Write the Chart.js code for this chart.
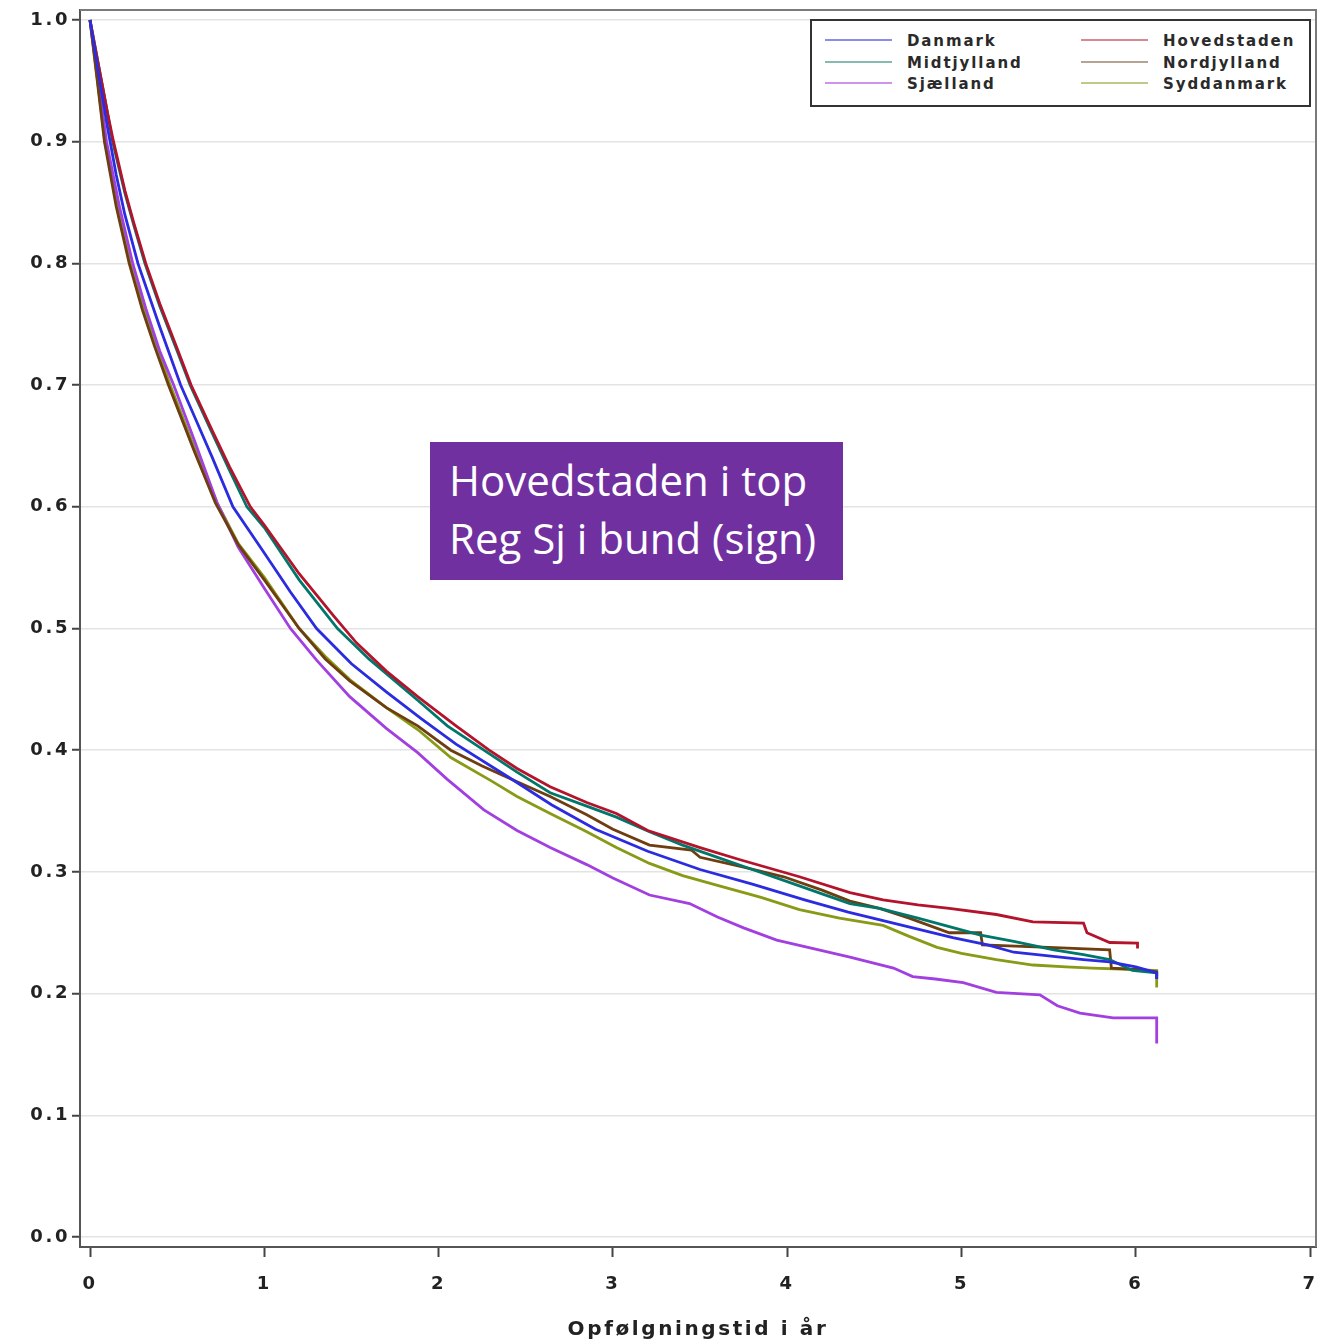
<!DOCTYPE html>
<html>
<head>
<meta charset="utf-8">
<script src="https://cdn.jsdelivr.net/npm/chart.js@4.4.0/dist/chart.umd.min.js"></script>
<style>
  body { margin: 0; background: #fff; overflow: hidden; }
  #wrap { position: relative; width: 1326px; height: 1344px; }
  #km { display: block; }
  #legend {
    position: absolute; left: 810px; top: 19px; width: 497px; height: 84px;
    border: 2px solid #333; background: #fff;
    font-family: "DejaVu Sans", sans-serif; font-weight: bold; font-size: 15px;
    letter-spacing: 1.9px; color: #2a2a2a;
  }
  .item { position: absolute; height: 20px; line-height: 20px; }
  .item span.ln { position: absolute; left: 0; top: 9px; width: 67px; height: 2px; }
  .item span.tx { position: absolute; left: 82px; top: 1px; white-space: nowrap; }
  #note {
    position: absolute; left: 430px; top: 442px; width: 413px; height: 138px;
    background: #7030a0; color: #fff;
    font-family: "Open Sans", sans-serif; font-size: 42px; line-height: 58px;
  }
  #note div { padding-left: 19px; white-space: nowrap; }
</style>
</head>
<body>
<div id="wrap">
  <canvas id="km"></canvas>
  <div id="legend"></div>
  <div id="note"><div style="margin-top:9px">Hovedstaden i top</div><div>Reg Sj i bund (sign)</div></div>
</div>
<script>
// survival curves per region
var regions = ["Danmark", "Hovedstaden", "Midtjylland", "Nordjylland", "Sjælland", "Syddanmark"];
var lineColors = ["#2b2be0", "#b3132b", "#00776a", "#6e3d10", "#a23fe0", "#889a16"];
var legendColors = ["#8c8cec", "#d88890", "#88bab2", "#b6a392", "#cf92ee", "#bccb8a"];
var xTicks = [0, 1, 2, 3, 4, 5, 6, 7];
var yTicks = [0, 0.1, 0.2, 0.3, 0.4, 0.5, 0.6, 0.7, 0.8, 0.9, 1.0];

var danmarkT = [0,0.05,0.1,0.15,0.2,0.275,0.4,0.52,0.6,0.7,0.82,1.0,1.15,1.3,1.5,1.7,1.9,2.1,2.4,2.65,2.9,3.2,3.5,3.8,4.1,4.35,4.55,4.75,4.95,5.15,5.3,5.5,5.7,5.85,6.0,6.12,6.12];
var danmarkS = [1.0,0.955,0.912,0.873,0.84,0.80,0.748,0.70,0.674,0.641,0.60,0.562,0.53,0.50,0.471,0.448,0.426,0.405,0.378,0.355,0.335,0.317,0.302,0.29,0.277,0.267,0.26,0.253,0.246,0.24,0.234,0.231,0.228,0.226,0.222,0.217,0.212];

var hovedT = [0,0.05,0.1,0.135,0.2,0.25,0.32,0.4,0.5,0.58,0.7,0.8,0.92,1.0,1.2,1.4,1.53,1.7,1.88,2.1,2.29,2.45,2.64,2.85,3.02,3.2,3.5,3.73,4.07,4.36,4.55,4.75,4.93,5.2,5.41,5.7,5.72,5.85,6.01,6.01];
var hovedS = [1.0,0.962,0.924,0.90,0.86,0.834,0.80,0.767,0.73,0.70,0.663,0.633,0.60,0.585,0.545,0.51,0.488,0.465,0.444,0.42,0.40,0.385,0.37,0.357,0.348,0.334,0.32,0.31,0.296,0.283,0.277,0.273,0.27,0.265,0.259,0.258,0.25,0.242,0.2415,0.237];

var midtT = [0,0.05,0.1,0.13,0.2,0.25,0.315,0.4,0.5,0.575,0.7,0.8,0.9,1.0,1.2,1.42,1.6,1.88,2.05,2.26,2.45,2.64,2.85,3.02,3.21,3.4,3.6,3.8,3.98,4.2,4.36,4.53,4.75,4.93,5.11,5.3,5.53,5.7,5.85,5.98,6.12,6.12];
var midtS = [1.0,0.962,0.924,0.90,0.858,0.832,0.80,0.765,0.728,0.70,0.661,0.63,0.60,0.583,0.54,0.50,0.475,0.441,0.42,0.40,0.382,0.365,0.354,0.345,0.333,0.322,0.312,0.302,0.293,0.282,0.274,0.27,0.262,0.255,0.248,0.243,0.236,0.232,0.228,0.219,0.217,0.212];

var nordT = [0,0.04,0.083,0.15,0.225,0.3,0.37,0.45,0.6,0.72,0.85,1.0,1.2,1.35,1.49,1.7,1.88,2.07,2.25,2.45,2.64,2.85,3.0,3.21,3.45,3.5,3.75,3.98,4.2,4.36,4.53,4.7,4.93,5.11,5.12,5.5,5.85,5.86,6.0,6.12,6.12];
var nordS = [1.0,0.952,0.90,0.847,0.80,0.762,0.732,0.70,0.645,0.603,0.569,0.54,0.50,0.475,0.457,0.435,0.42,0.40,0.387,0.374,0.362,0.347,0.335,0.322,0.318,0.312,0.304,0.296,0.285,0.276,0.27,0.262,0.25,0.25,0.24,0.238,0.236,0.221,0.22,0.218,0.214];

var sjaelT = [0,0.05,0.095,0.17,0.245,0.32,0.4,0.48,0.6,0.73,0.85,1.0,1.15,1.3,1.49,1.7,1.88,2.05,2.26,2.45,2.64,2.85,3.0,3.21,3.44,3.6,3.75,3.94,4.15,4.36,4.61,4.72,4.85,5.01,5.2,5.45,5.55,5.68,5.87,6.12,6.12];
var sjaelS = [1.0,0.948,0.90,0.846,0.80,0.763,0.728,0.70,0.654,0.603,0.567,0.533,0.50,0.474,0.444,0.418,0.398,0.376,0.351,0.334,0.32,0.306,0.295,0.281,0.274,0.263,0.254,0.244,0.237,0.23,0.221,0.214,0.212,0.209,0.201,0.199,0.19,0.184,0.18,0.18,0.159];

var syddT = [0,0.045,0.086,0.15,0.23,0.3,0.38,0.46,0.6,0.73,0.85,1.0,1.2,1.35,1.49,1.7,1.88,2.07,2.3,2.45,2.64,2.85,3.02,3.21,3.4,3.6,3.85,4.07,4.3,4.55,4.7,4.86,5.0,5.2,5.41,5.6,5.75,5.95,6.12,6.12];
var syddS = [1.0,0.948,0.90,0.852,0.80,0.767,0.734,0.70,0.648,0.603,0.57,0.542,0.50,0.477,0.458,0.435,0.417,0.394,0.375,0.362,0.348,0.333,0.32,0.307,0.297,0.289,0.279,0.269,0.262,0.256,0.247,0.238,0.233,0.228,0.2235,0.222,0.221,0.22,0.219,0.205];

var times = [danmarkT, hovedT, midtT, nordT, sjaelT, syddT];
var surv = [danmarkS, hovedS, midtS, nordS, sjaelS, syddS];

function pts(t, s) {
  return t.map(function (v, i) { return { x: v, y: s[i] }; });
}

var datasets = regions.map(function (name, i) {
  return {
    label: name,
    data: pts(times[i], surv[i]),
    borderColor: lineColors[i],
    borderWidth: 2.8,
    pointRadius: 0,
    tension: 0,
    fill: false
  };
});

// legend, filled column-wise like the original
var leg = document.getElementById("legend");
var order = [0, 2, 4, 1, 3, 5];
order.forEach(function (k, i) {
  var col = i < 3 ? 0 : 1, row = i % 3;
  var d = document.createElement("div");
  d.className = "item";
  d.style.left = (col === 0 ? 13 : 269) + "px";
  d.style.top = (9 + row * 21.5) + "px";
  d.innerHTML = '<span class="ln" style="background:' + legendColors[k] + '"></span><span class="tx">' + regions[k] + '</span>';
  leg.appendChild(d);
});

// pin the plot box to where it sits in the original
var box = { left: 80, top: 10, right: 1316, bottom: 1247 };
var frame = {
  id: "frame",
  afterLayout: function (chart) {
    var a = chart.chartArea, x = chart.scales.x, y = chart.scales.y;
    a.left = box.left; a.top = box.top; a.right = box.right; a.bottom = box.bottom;
    a.width = a.right - a.left; a.height = a.bottom - a.top;
    x.left = box.left; x.right = box.right; x.width = a.width;
    x.top = box.bottom; x.bottom = chart.height; x.height = x.bottom - x.top;
    y.left = 0; y.right = box.left; y.width = box.left;
    y.top = box.top; y.bottom = box.bottom; y.height = a.height;
    x.configure(); y.configure();
  },
  beforeDraw: function (chart) {
    chart.ctx.letterSpacing = "2.6px";
  },
  afterDraw: function (chart) {
    var a = chart.chartArea, c = chart.ctx;
    c.save();
    c.strokeStyle = "#7a7a7a";
    c.lineWidth = 2;
    c.beginPath();
    c.moveTo(a.left, a.top);
    c.lineTo(a.right, a.top);
    c.lineTo(a.right, a.bottom);
    c.stroke();
    c.restore();
  }
};

new Chart(document.getElementById("km"), {
  type: "line",
  data: { datasets: datasets },
  plugins: [frame],
  options: {
    responsive: true,
    maintainAspectRatio: false,
    animation: false,
    layout: { padding: { top: 10, right: 10, left: 0, bottom: 0 } },
    plugins: { legend: { display: false }, tooltip: { enabled: false } },
    scales: {
      x: {
        type: "linear",
        min: -0.0574,
        max: 7.034,
        afterBuildTicks: function (s) { s.ticks = xTicks.map(function (v) { return { value: v }; }); },
        afterFit: function (s) { s.height = 97; },
        border: { color: "#555", width: 2 },
        grid: { drawOnChartArea: false, drawTicks: true, tickLength: 10, tickColor: "#444", tickWidth: 2 },
        ticks: {
          padding: 17,
          color: "#222",
          font: { family: "DejaVu Sans", size: 18, weight: "bold" },
          maxRotation: 0,
          callback: function (v) { return String(v); }
        },
        title: {
          display: true,
          text: "Opfølgningstid i år",
          color: "#222",
          font: { family: "DejaVu Sans", size: 20, weight: "bold" },
          padding: { top: 0, bottom: 2 }
        }
      },
      y: {
        type: "linear",
        min: -0.0082,
        max: 1.0082,
        afterBuildTicks: function (s) { s.ticks = yTicks.map(function (v) { return { value: v }; }); },
        afterFit: function (s) { s.width = 80; },
        border: { color: "#555", width: 2 },
        grid: { color: "#e3e3e3", lineWidth: 1.5, tickLength: 8, tickColor: "#444", tickWidth: 2 },
        ticks: {
          padding: 2,
          color: "#222",
          font: { family: "DejaVu Sans", size: 18, weight: "bold" },
          callback: function (v) { return v.toFixed(1); }
        }
      }
    }
  }
});
</script>
</body>
</html>
